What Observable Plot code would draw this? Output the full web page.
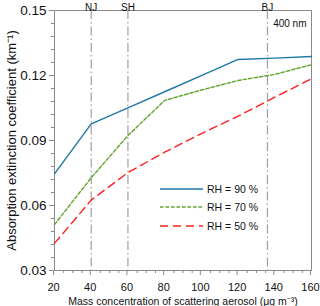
<!DOCTYPE html>
<html><head><meta charset="utf-8">
<script src="https://cdn.jsdelivr.net/npm/d3@7"></script>
<script src="https://cdn.jsdelivr.net/npm/@observablehq/plot@0.6"></script>
<style>
body{margin:0;background:#fff;font-family:"Liberation Sans",Arial,sans-serif}
#wrap{position:relative;width:320px;height:306px}
#legend{position:absolute;left:0;top:0;width:320px;height:306px;pointer-events:none}
</style></head><body>
<div id="wrap"><div id="chart"></div><svg id="legend"></svg></div>
<script>
const mass = [20, 40, 60, 80, 100, 120, 140, 160];
const rh90 = [0.0746, 0.0977, 0.1051, 0.1125, 0.1199, 0.1274, 0.1280, 0.1288];
const rh70 = [0.0512, 0.0728, 0.0923, 0.1085, 0.1133, 0.1177, 0.1205, 0.1250];
const rh50 = [0.0425, 0.0625, 0.0752, 0.0846, 0.0932, 0.1012, 0.1100, 0.1185];
const seriesNames = ["RH = 90 %", "RH = 70 %", "RH = 50 %"];
const seriesColors = ["#1f78a4", "#5fa52a", "#ff1f1f"];
const seriesDash = [null, "3.5,2", "8,5"];
const cities = ["NJ", "SH", "BJ"];
const cityMass = [40, 60, 136];
const yMajor = [0.03, 0.06, 0.09, 0.12, 0.15];
const xMajor = [20, 40, 60, 80, 100, 120, 140, 160];

const yMinor = d3.range(0.03, 0.1501, 0.006).filter(v => !yMajor.some(m => Math.abs(m - v) < 1e-6));
const xMinor = d3.range(20, 161, 5).filter(v => v % 20 !== 0);

const allSeries = [rh90, rh70, rh50];
const marks = [
  Plot.frame({stroke: "#8a8a8a"}),
  Plot.ruleX(cityMass, {stroke: "#a0a0a0", strokeWidth: 1.2, strokeDasharray: "9,3,1.5,3"}),
  Plot.text(cities, {x: (d, i) => cityMass[i], text: d => d, frameAnchor: "top", lineAnchor: "bottom", dy: 0, fontSize: 10, fill: "#111"}),
  Plot.text(["400 nm"], {frameAnchor: "top-right", textAnchor: "end", dx: -5, dy: 9, fontSize: 10, fill: "#111"}),
  Plot.axisY({ticks: yMinor, tickSize: 3, tickFormat: () => "", stroke: "#8a8a8a", label: null}),
  Plot.axisY({ticks: yMajor, tickSize: 5, tickPadding: 3, tickFormat: ".2f", fontSize: 13.5, color: "#111", stroke: "#8a8a8a", label: null}),
  Plot.axisY({ticks: [], label: "Absorption extinction coefficient (km\u207B\u00B9)", labelAnchor: "center", labelArrow: "none", labelOffset: 48, fontSize: 13, color: "#111"}),
  Plot.axisX({ticks: xMinor, tickSize: 3, tickFormat: () => "", stroke: "#8a8a8a", label: null}),
  Plot.axisX({ticks: xMajor, tickSize: 5, tickPadding: 8, dx: -1, tickFormat: d => d, fontSize: 11, color: "#111", stroke: "#8a8a8a", label: null}),
  Plot.axisX({ticks: [], label: "Mass concentration of scattering aerosol (\u03BCg m\u207B\u00B3)", labelAnchor: "center", labelArrow: "none", labelOffset: 34, fontSize: 10.5, color: "#111"})
];
allSeries.forEach((s, k) => {
  marks.push(Plot.line(mass, {x: d => d, y: (d, i) => s[i], stroke: seriesColors[k], strokeWidth: 1.4, strokeDasharray: seriesDash[k]}));
});

const chart = Plot.plot({
  width: 320, height: 306,
  marginLeft: 54, marginRight: 9, marginTop: 10, marginBottom: 36,
  style: {fontFamily: "Liberation Sans, Arial, sans-serif", fontSize: "11px", background: "#fff", color: "#111"},
  x: {domain: [20, 160]},
  y: {domain: [0.03, 0.15]},
  marks
});
document.getElementById("chart").appendChild(chart);

// legend overlay
const leg = d3.select("#legend");
const lx0 = 160, lx1 = 203, ly = [189, 207, 226];
seriesNames.forEach((n, k) => {
  leg.append("line").attr("x1", lx0).attr("x2", lx1).attr("y1", ly[k]).attr("y2", ly[k])
    .attr("stroke", seriesColors[k]).attr("stroke-width", 1.4).attr("stroke-dasharray", seriesDash[k]);
  leg.append("text").attr("x", lx1 + 4).attr("y", ly[k]).attr("dy", "0.35em")
    .attr("font-size", 10.5).attr("fill", "#111").attr("font-family", "Liberation Sans, Arial, sans-serif").text(n);
});
</script>
</body></html>
